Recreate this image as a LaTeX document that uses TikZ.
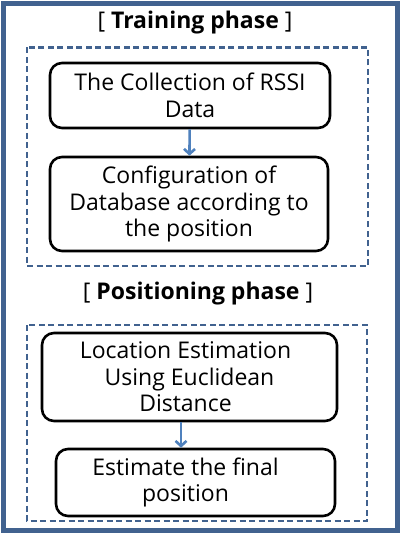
\documentclass[tikz,border=0pt]{standalone}
\usepackage{fontspec}
\setmainfont{Open Sans}
\usetikzlibrary{arrows.meta}
\definecolor{framecol}{RGB}{65,98,143}
\definecolor{arrowcol}{RGB}{79,129,189}
\tikzset{
	stage/.style={draw=black,line width=2.6pt,rounded corners=12pt,align=center,inner sep=1pt},
	phase/.style={draw=framecol,line width=2.6pt,dash pattern=on 6pt off 3.5pt},
	flow/.style={-{Straight Barb[length=5pt,width=11pt]},draw=arrowcol,line width=2.6pt}
}
\begin{document}
\begin{tikzpicture}[x=1pt,y=-1pt,font=\fontsize{23}{26.5}\selectfont]
		\useasboundingbox (0,0) rectangle (401,534);
		\draw[framecol,line width=5pt] (3.5,3.5) rectangle (397.5,530.5);
		\node (t1) at (195,23) {[ \textbf{Training phase} ]};
		\draw[phase] (27,47.5) rectangle (368,266);
		\node[stage,minimum width=280pt,minimum height=65pt] (1) at (190,95.5) {The Collection of RSSI\\Data};
		\node[stage,minimum width=278pt,minimum height=94pt] (2) at (189,204) {Configuration of\\Database according to\\the position};
		\draw[flow] (1) -- (2);
		\node (t2) at (198,294) {[ \textbf{Positioning phase} ]};
		\draw[phase] (27,325) rectangle (367,521);
		\node[stage,minimum width=295pt,minimum height=88pt] (3) at (189.5,377) {Location Estimation\hspace*{8pt}\\Using Euclidean\hspace*{8pt}\\Distance\hspace*{8pt}};
		\node[stage,minimum width=279pt,minimum height=67pt] (4) at (195.5,482.5) {Estimate the final\hspace*{20pt}\\position\hspace*{20pt}};
		\draw[flow] (3.south -| 181,0) -- (4.north -| 181,0);
	\end{tikzpicture}
\end{document}
